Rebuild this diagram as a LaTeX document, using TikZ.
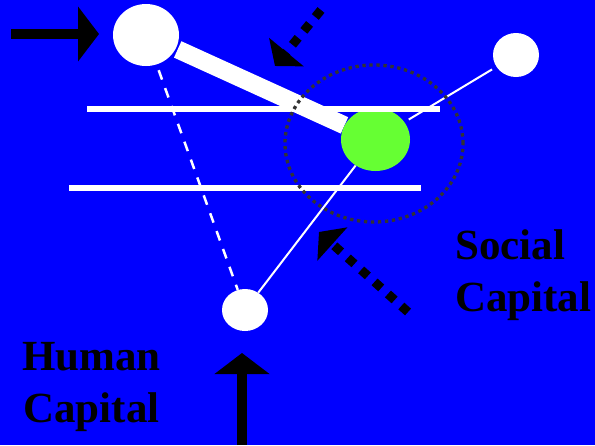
\documentclass[tikz,border=0pt]{standalone}
\usepackage{fontspec}
\setmainfont{Liberation Serif}
\usetikzlibrary{shapes.geometric,arrows.meta}
\definecolor{bgblue}{RGB}{0,0,255}
\definecolor{lime}{RGB}{102,255,51}
\definecolor{ringgray}{RGB}{51,51,51}
\pgfdeclarelayer{bg}
\pgfdeclarelayer{lines}
\pgfsetlayers{bg,lines,main}
\begin{document}
\begin{tikzpicture}[x=1pt,y=-1pt,
  wcirc/.style={ellipse, fill=white, inner sep=0pt},
  gcirc/.style={ellipse, fill=lime, inner sep=0pt},
  ringnode/.style={ellipse, draw=ringgray, line width=3.3pt, dash pattern=on 3.3pt off 3.7pt, inner sep=0pt},
  barline/.style={white, line width=18pt},
  thinline/.style={white, line width=2pt},
  dashline/.style={white, line width=2.5pt, dash pattern=on 10pt off 9pt},
  hline/.style={white, line width=6pt},
  bigarrow/.style={black, line width=10pt, -{Triangle[length=21pt,width=54pt]}},
  dotarrow/.style={black, line width=9pt, dash pattern=on 9pt off 9pt, -{Triangle[length=18pt,width=44pt]}},
  caplabel/.style={font=\fontsize{43}{51.5}\selectfont\bfseries, inner sep=0pt, text=black}
]
\useasboundingbox (0,0) rectangle (595,445);
\begin{pgfonlayer}{bg}
\fill[bgblue] (0,0) rectangle (595,445);
\end{pgfonlayer}

% green circle
\node[gcirc, minimum width=69pt, minimum height=63pt] (green) at (375.5,139.5) {};

% horizontal lines
\draw[hline] (87,109) -- (440,109);
\draw[hline] (69,188) -- (421,188);

% dotted ring
\node[ringnode, minimum width=178pt, minimum height=157pt] (ring) at (374,143.5) {};

% white circles
\node[wcirc, minimum width=66pt, minimum height=62pt] (big) at (146,35) {};
\node[wcirc, minimum width=46pt, minimum height=44pt] (tr) at (516,55) {};
\node[wcirc, minimum width=46pt, minimum height=42pt] (bot) at (245,310) {};

% connectors
\begin{pgfonlayer}{lines}
\draw[barline, shorten <=2pt] (big) -- (green);
\draw[thinline, shorten <=5pt, shorten >=5pt] (green) -- (tr);
\draw[thinline] (green) -- (bot);
\draw[dashline, shorten <=6pt] (big) -- (bot);
\end{pgfonlayer}

% arrows
\coordinate (la0) at (11,34);  \coordinate (la1) at (99,34);
\coordinate (ha0) at (242,445); \coordinate (ha1) at (242,353);
\coordinate (ta0) at (321,10); \coordinate (ta1) at (275,66);
\coordinate (ra0) at (408,312); \coordinate (ra1) at (319,232);
\draw[bigarrow] (la0) -- (la1);
\draw[bigarrow] (ha0) -- (ha1);
\draw[dotarrow] (ta0) -- (ta1);
\draw[dotarrow] (ra0) -- (ra1);

% labels (anchor base = baseline of last line)
\node[caplabel, anchor=base west, align=left] (social) at (455,311) {Social\\Capital};
\node[caplabel, anchor=base west, align=center] (human) at (22,422) {Human\\Capital};
\end{tikzpicture}
\end{document}
